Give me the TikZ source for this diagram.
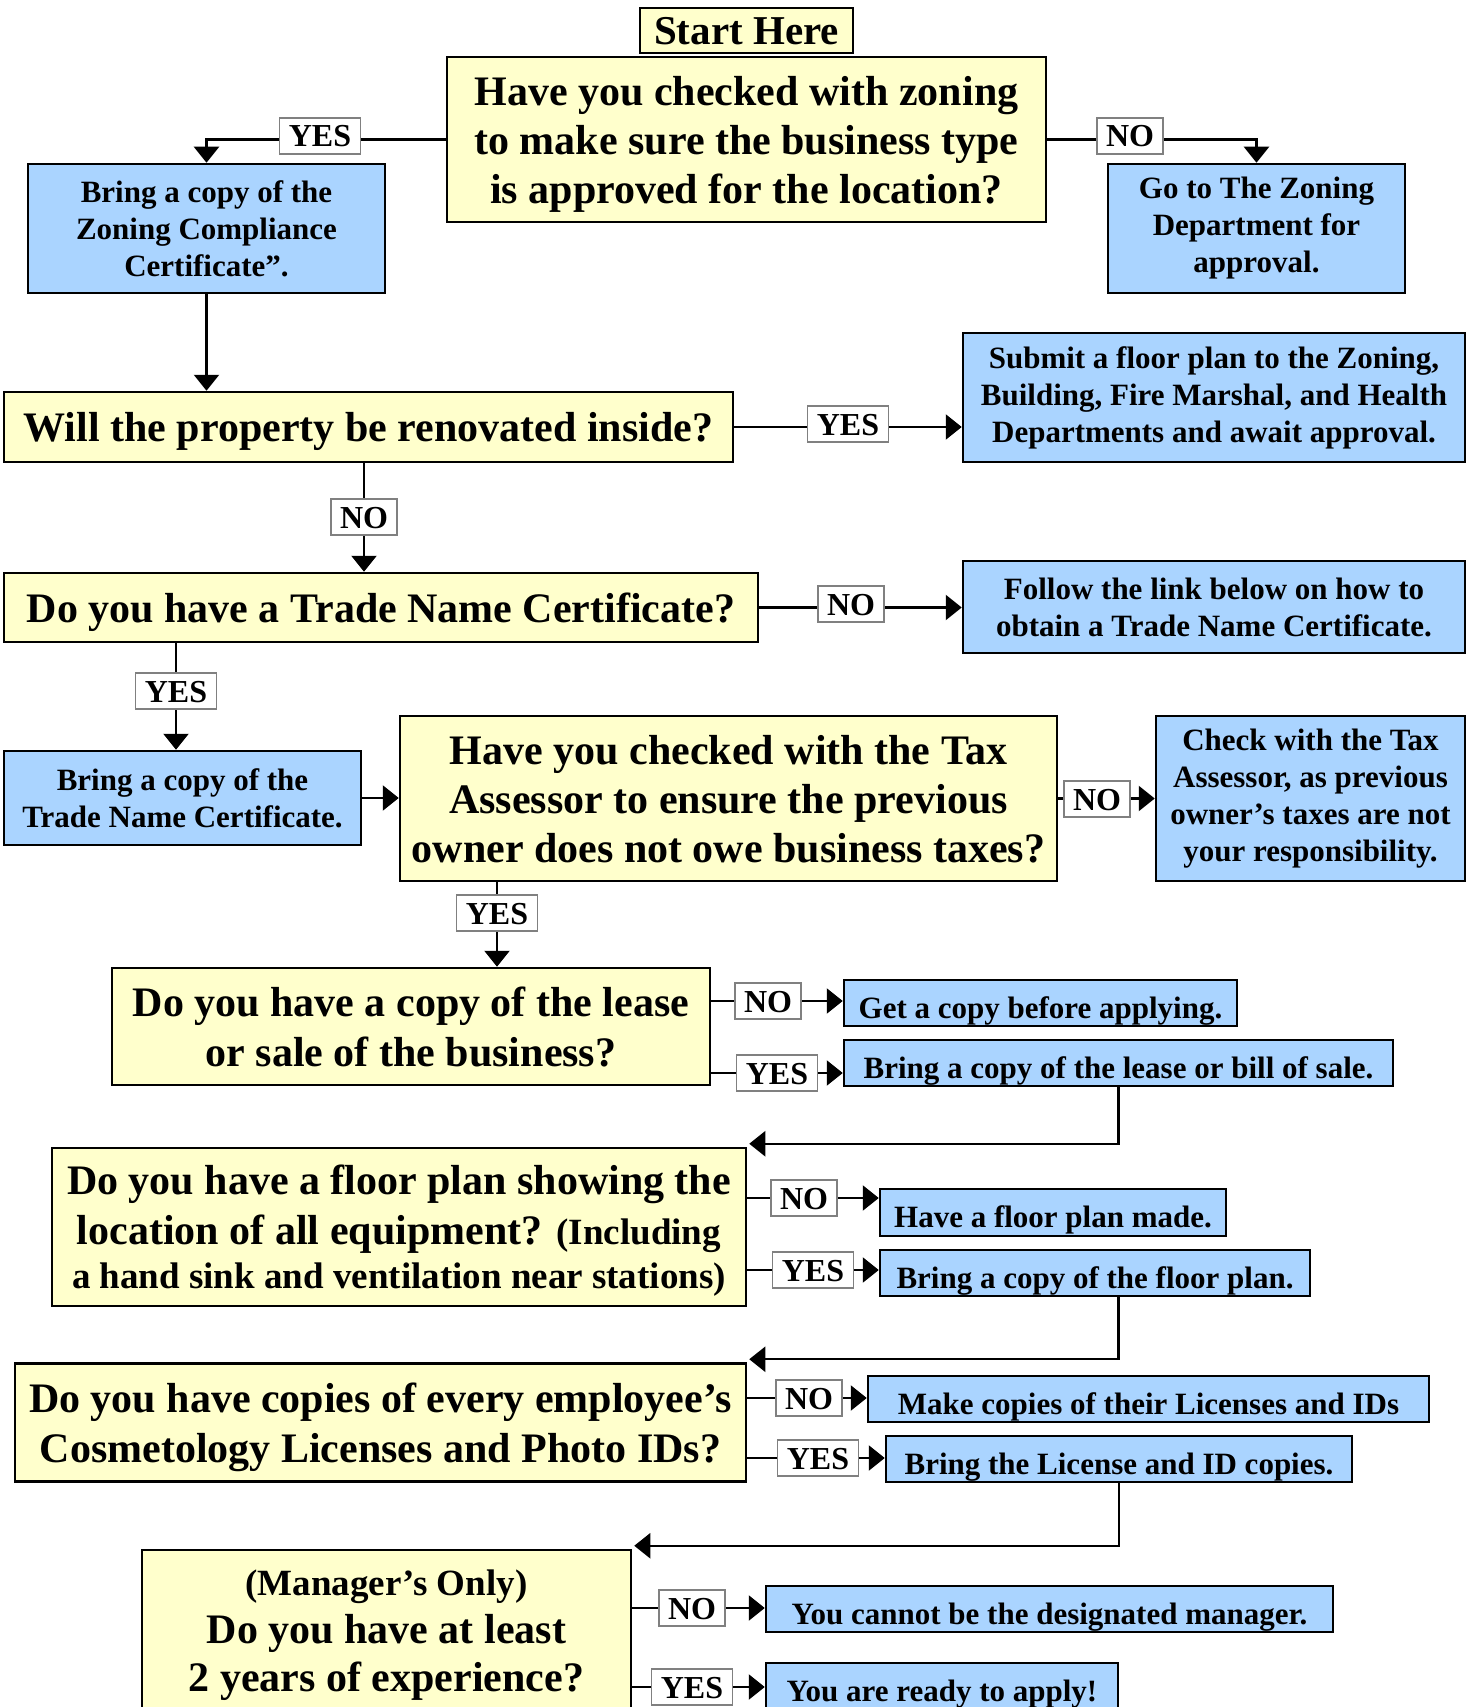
\documentclass[tikz,border=0pt]{standalone}
\usepackage{fontspec}
\setmainfont{Liberation Serif}
\usetikzlibrary{arrows.meta,backgrounds}
\definecolor{qyellow}{RGB}{255,255,204}
\definecolor{bblue}{RGB}{170,212,255}
\definecolor{labgray}{RGB}{128,128,128}
\newcommand\fQ{\fontsize{42}{49}\selectfont}
\newcommand\fB{\fontsize{31}{37}\selectfont}
\newcommand\fL{\fontsize{32}{36}\selectfont}
\newcommand\fS{\fontsize{41}{48}\selectfont}
\newcommand\fM{\fontsize{37}{44}\selectfont}
\tikzset{
  qbox/.style={draw, line width=2.5pt, fill=qyellow, align=center, font=\bfseries\fQ, inner sep=0pt, text depth=0pt},
  bbox/.style={draw, line width=2.5pt, fill=bblue, align=center, font=\bfseries\fB, inner sep=0pt},
  bone/.style={bbox, text height=38pt, text depth=8pt},
  lab/.style={draw=labgray, line width=1.2pt, fill=white, font=\bfseries\fL, inner xsep=9pt, inner ysep=0pt, text height=29pt, text depth=7pt},
  conn/.style={line width=2.3pt, -{Triangle[width=25pt,length=16pt]}},
  sz/.style 2 args={minimum width=#1pt, minimum height=#2pt}
}
\begin{document}
\begin{tikzpicture}[x=1pt,y=-1pt]
\useasboundingbox (0,0) rectangle (1475,1707);
\clip (0,0) rectangle (1475,1707);
% boxes
\node[qbox, font=\bfseries\fS, sz={213}{45}] (start) at (746.5,30.5) {Start Here};
\node[qbox, sz={599}{165}] (zoning) at (746.5,139.5) {Have you checked with zoning\\to make sure the business type\\is approved for the location?};
\node[bbox, sz={357}{129}] (bringzc) at (206.5,228.5) {Bring a copy of the\\Zoning Compliance\\Certificate”.};
\node[bbox, sz={297}{129}] (goto) at (1256.5,228.5) {Go to The Zoning\\Department for\\approval.};
\node[qbox, sz={729}{70}] (will) at (368.5,427) {Will the property be renovated inside?};
\node[bbox, sz={502}{129}] (submit) at (1214,397.5) {Submit a floor plan to the Zoning,\\Building, Fire Marshal, and Health\\Departments and await approval.};
\node[qbox, sz={754}{69}] (trade) at (381,607.5) {Do you have a Trade Name Certificate?};
\node[bbox, sz={502}{92}] (follow) at (1214,607) {Follow the link below on how to\\obtain a Trade Name Certificate.};
\node[bbox, sz={357}{94}] (bringtn) at (182.5,798) {Bring a copy of the\\Trade Name Certificate.};
\node[qbox, sz={657}{165}] (tax) at (728.5,798.5) {Have you checked with the Tax\\Assessor to ensure the previous\\owner does not owe business taxes?};
\node[bbox, sz={309}{165}] (check) at (1310.5,798.5) {Check with the Tax\\Assessor, as previous\\owner’s taxes are not\\your responsibility.};
\node[qbox, font=\bfseries\fontsize{42}{50}\selectfont, sz={598}{117}] (lease) at (411,1026.5) {Do you have a copy of the lease\\or sale of the business?};
\node[bone, sz={393}{46}] (getcopy) at (1040.5,1003) {Get a copy before applying.};
\node[bone, sz={549}{46}] (bringlease) at (1118.5,1063) {Bring a copy of the lease or bill of sale.};
\node[qbox, font=\bfseries\fontsize{42}{50}\selectfont, sz={694}{158}] (floor) at (399,1227) {Do you have a floor plan showing the\\location of all equipment? {\fM(Including}\\[-6pt]{\fM a hand sink and ventilation near stations)}};
\node[bone, sz={346}{47}] (havefloor) at (1053,1212.5) {Have a floor plan made.};
\node[bone, sz={430}{46}] (bringfloor) at (1095,1273) {Bring a copy of the floor plan.};
\node[qbox, font=\bfseries\fontsize{42}{50}\selectfont, sz={731}{118}] (employee) at (380.5,1422.5) {Do you have copies of every employee’s\\Cosmetology Licenses and Photo IDs?};
\node[bone, sz={561}{46}] (makecopies) at (1148.5,1399) {Make copies of their Licenses and IDs};
\node[bone, sz={466}{46}] (bringlic) at (1119,1459) {Bring the License and ID copies.};
\node[qbox, font=\bfseries\fontsize{42}{48}\selectfont, sz={489}{162}] (manager) at (386.5,1631) {{\fM(Manager’s Only)}\\Do you have at least\\2 years of experience?};
\node[bone, sz={567}{46}] (cannot) at (1049.5,1609) {You cannot be the designated manager.};
\node[bone, sz={352}{46}] (ready) at (942,1686) {You are ready to apply!};
% labels
\node[lab] (yes1) at (320,136) {YES};
\node[lab] (no1) at (1130,136) {NO};
\node[lab] (yes2) at (848,424) {YES};
\node[lab] (no2) at (364,517) {NO};
\node[lab] (no3) at (851,604) {NO};
\node[lab] (yes3) at (176,691) {YES};
\node[lab] (no4) at (1097,799) {NO};
\node[lab] (yes4) at (497,913) {YES};
\node[lab] (no5) at (768,1001) {NO};
\node[lab] (yes5) at (777,1073) {YES};
\node[lab] (no6) at (804,1198) {NO};
\node[lab] (yes6) at (813,1270) {YES};
\node[lab] (no7) at (809,1398) {NO};
\node[lab] (yes7) at (818,1458) {YES};
\node[lab] (no8) at (692,1608) {NO};
\node[lab] (yes8) at (692,1687) {YES};
% connectors
\begin{pgfonlayer}{background}
\draw[conn] (zoning.west) -| (bringzc.north);
\draw[conn] (zoning.east) -| (goto.north);
\draw[conn] (bringzc.south) -- (bringzc.south |- will.north);
\draw[conn] (will.east) -- (will.east -| submit.west);
\draw[conn] (no2 |- will.south) -- (no2 |- trade.north);
\draw[conn] (trade.east) -- (trade.east -| follow.west);
\draw[conn] (yes3 |- trade.south) -- (yes3 |- bringtn.north);
\draw[conn] (bringtn.east) -- (bringtn.east -| tax.west);
\draw[conn] (tax.east) -- (tax.east -| check.west);
\draw[conn] (yes4 |- tax.south) -- (yes4 |- lease.north);
\draw[conn] (lease.east |- no5) -- (getcopy.west |- no5);
\draw[conn] (lease.east |- yes5) -- (bringlease.west |- yes5);
\draw[conn] (bringlease.south) |- ([xshift=2pt,yshift=3pt]floor.north east);
\draw[conn] (floor.east |- no6) -- (havefloor.west |- no6);
\draw[conn] (floor.east |- yes6) -- (bringfloor.west |- yes6);
\draw[conn] (bringlease.south |- bringfloor.south) |- ([xshift=2pt,yshift=3pt]employee.north east);
\draw[conn] (employee.east |- no7) -- (makecopies.west |- no7);
\draw[conn] (employee.east |- yes7) -- (bringlic.west |- yes7);
\draw[conn] (bringlic.south) |- ([xshift=2pt,yshift=3pt]manager.north east);
\draw[conn] (manager.east |- no8) -- (cannot.west |- no8);
\draw[conn] (manager.east |- yes8) -- (ready.west |- yes8);
\end{pgfonlayer}
\end{tikzpicture}
\end{document}
